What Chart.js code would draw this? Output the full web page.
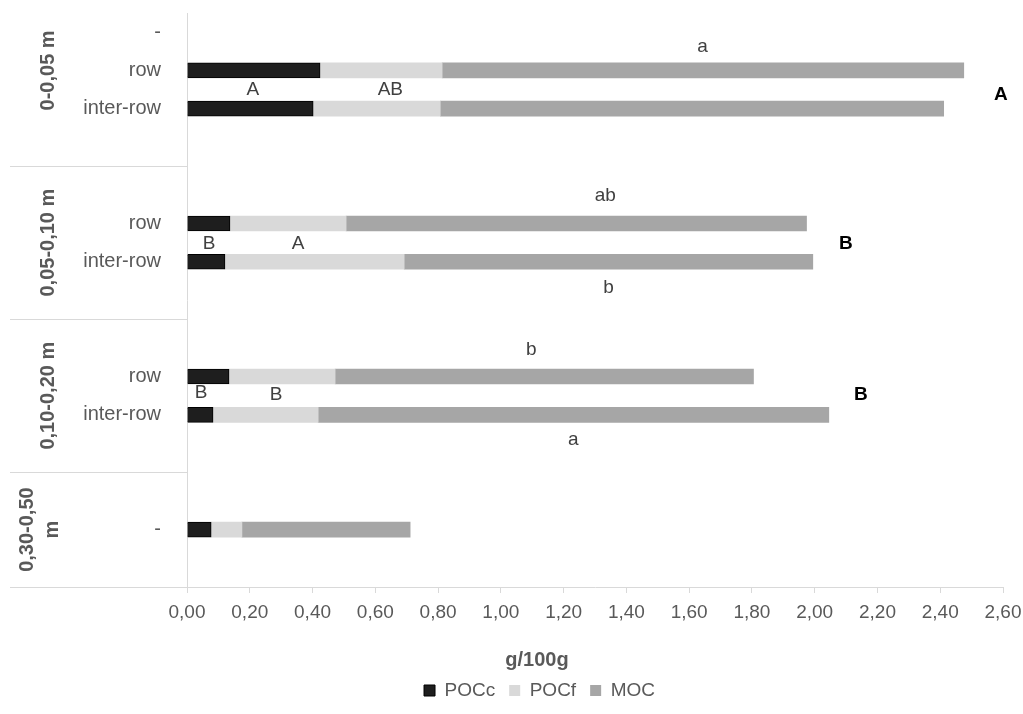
<!DOCTYPE html>
<html>
<head>
<meta charset="utf-8">
<script src="https://cdn.jsdelivr.net/npm/chart.js@4.4.1/dist/chart.umd.min.js"></script>
<style>
html,body{margin:0;padding:0;background:#fff;}
#wrap{width:1023px;height:714px;position:relative;}
</style>
</head>
<body>
<div id="wrap"><canvas id="c"></canvas></div>
<script>
// categories (15 slots, blanks separate the depth groups)
const categories = ["-","row","inter-row","","","row","inter-row","","","row","inter-row","","","-",""];
const depthGroups = ["0-0,05 m","0,05-0,10 m","0,10-0,20 m","0,30-0,50 m"];
const seriesNames = ["POCc","POCf","MOC"];
const POCc = [null,0.424,0.402,null,null,0.137,0.121,null,null,0.134,0.083,null,null,0.077,null];
const POCf = [null,0.389,0.405,null,null,0.370,0.571,null,null,0.338,0.335,null,null,0.098,null];
const MOC  = [null,1.662,1.604,null,null,1.467,1.302,null,null,1.333,1.627,null,null,0.536,null];
const xTicks = [0,0.2,0.4,0.6,0.8,1.0,1.2,1.4,1.6,1.8,2.0,2.2,2.4,2.6];
// significance letters: text, x value, category index
const letterText = ["a","A","AB","A","ab","B","A","B","b","b","B","B","B","a"];
const letterX    = [1.643,0.21,0.648,2.593,1.333,0.07,0.354,2.099,1.343,1.097,0.045,0.284,2.147,1.231];
const letterY    = [0.37,1.51,1.51,1.64,4.28,5.54,5.54,5.54,6.68,8.30,9.43,9.48,9.48,10.65];
const letterBold = [false,false,false,true,false,false,false,true,false,false,false,false,true,false];

const grey = '#595959';
const FAM = '"Liberation Sans", Arial, sans-serif';
const overlay = {
  id:'overlay',
  afterLayout(chart){
    const lg = chart.legend;
    if(lg){ lg.left += 28; lg.right += 28; }
  },
  afterDraw(chart){
    const ctx = chart.ctx, y = chart.scales.y, x = chart.scales.x;
    ctx.save();
    ctx.strokeStyle = '#d9d9d9'; ctx.lineWidth = 1;
    [3.5,7.5,11.5,14.5].forEach(b=>{
      const py = Math.round(y.getPixelForValue(b))+0.5;
      ctx.beginPath(); ctx.moveTo(10,py); ctx.lineTo(x.left,py); ctx.stroke();
    });
    ctx.fillStyle = grey; ctx.font = 'bold 20px '+FAM;
    ctx.textAlign='center'; ctx.textBaseline='middle';
    const centers = [1,5.5,9.5,13];
    depthGroups.forEach((g,i)=>{
      const py = y.getPixelForValue(centers[i]);
      ctx.save(); ctx.translate(48,py); ctx.rotate(-Math.PI/2);
      if(i===3){
        ctx.translate(0,-21); ctx.fillText("0,30-0,50",0,0);
        ctx.translate(0,25); ctx.fillText("m",0,0);
      } else ctx.fillText(g,0,0);
      ctx.restore();
    });
    letterText.forEach((t,i)=>{
      ctx.font = (letterBold[i]?'bold ':'')+'19px '+FAM;
      ctx.fillStyle = letterBold[i]?'#000':'#404040';
      ctx.fillText(t, x.getPixelForValue(letterX[i]), y.getPixelForValue(letterY[i]));
    });
    ctx.font = 'bold 20px '+FAM;
    ctx.fillStyle = grey;
    ctx.fillText("g/100g", 537, 660);
    ctx.restore();
  }
};

new Chart(document.getElementById('c'), {
  type:'bar',
  data:{
    labels: categories,
    datasets:[
      {label:seriesNames[0], data:POCc, backgroundColor:'#1e1e1e', borderColor:'#000', borderWidth:1},
      {label:seriesNames[1], data:POCf, backgroundColor:'#d9d9d9', borderWidth:0},
      {label:seriesNames[2], data:MOC, backgroundColor:'#a6a6a6', borderWidth:0}
    ]
  },
  options:{
    indexAxis:'y',
    responsive:true, maintainAspectRatio:false, animation:false,
    barThickness:15,
    layout:{padding:{left:0,right:0,top:13,bottom:4}},
    plugins:{
      legend:{position:'bottom',
        labels:{boxWidth:11,boxHeight:11,color:grey,padding:14,
          font:{size:19,family:FAM}}},
      tooltip:{enabled:false}
    },
    scales:{
      x:{stacked:true,min:0,max:2.6,
        afterBuildTicks(s){ s.ticks = xTicks.map(v=>({value:v})); },
        afterFit(s){ const lh = (s.chart.legend && s.chart.legend.height) || 45; s.height = 714 - 4 - lh - 587; s.paddingRight = 20; s.paddingLeft = 0; },
        grid:{drawOnChartArea:false,color:'#d9d9d9',tickLength:6},
        border:{color:'#d9d9d9'},
        ticks:{color:grey,padding:8,maxRotation:0,autoSkip:false,
          font:{size:19,family:FAM},
          callback:(v)=>Number(v).toFixed(2).replace('.',',')}
      },
      y:{stacked:true,offset:true,
        afterFit(s){ s.width = 187; s.paddingTop = 0; s.paddingBottom = 0; },
        grid:{display:false},
        border:{color:'#d9d9d9'},
        ticks:{color:grey,padding:18,autoSkip:false,
          font:{size:20,family:FAM}}
      }
    }
  },
  plugins:[overlay]
});
</script>
</body>
</html>
